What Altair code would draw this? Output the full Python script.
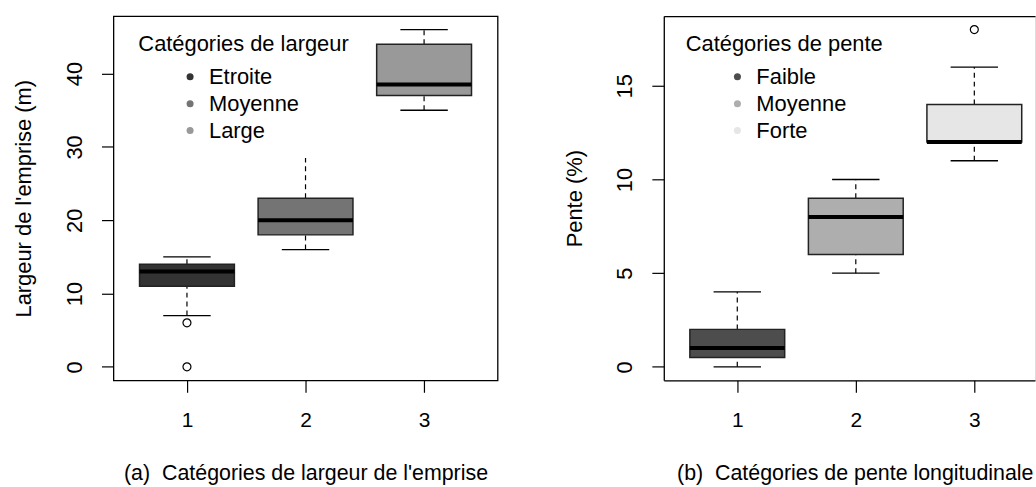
import altair as alt
import pandas as pd

FONT = "Liberation Sans"

# ---- shared ----
x_ticks = [1, 2, 3]

# ---- panel (a): largeur de l'emprise ----
a_cats = ["Etroite", "Moyenne", "Large"]
a_wlo = [7, 16, 35]
a_q1 = [11, 18, 37]
a_med = [13, 20, 38.5]
a_q3 = [14, 23, 44]
a_whi = [15, 28.5, 46]
a_cap_hi = [True, False, True]
a_out_pos = [1, 1]
a_out_val = [6, 0]
a_colors = ["#333333", "#747474", "#999999"]
a_ydomain = [-1.84, 47.84]
a_xdomain = [0.38, 3.62]
a_yticks = [0, 10, 20, 30, 40]

# ---- panel (b): pente longitudinale ----
b_cats = ["Faible", "Moyenne", "Forte"]
b_wlo = [0, 5, 11]
b_q1 = [0.5, 6, 12]
b_med = [1, 8, 12]
b_q3 = [2, 9, 14]
b_whi = [4, 10, 16]
b_cap_hi = [True, True, True]
b_out_pos = [3]
b_out_val = [18]
b_colors = ["#4D4D4D", "#AEAEAE", "#E6E6E6"]
b_ydomain = [-0.72, 18.72]
b_xdomain = [0.38, 3.512]
b_yticks = [0, 5, 10, 15]


def panel(cats, wlo, q1, med, q3, whi, cap_hi, out_pos, out_val, colors,
          ydom, xdom, yticks, ytitle, xtitle, ltitle, width, legend_x,
          catfield, framed):
    df = pd.DataFrame({catfield: cats, "pos": x_ticks, "wlo": wlo, "q1": q1,
                       "med": med, "q3": q3, "whi": whi, "cap_hi": cap_hi})
    odf = pd.DataFrame({"pos": out_pos, "val": out_val})
    base = alt.Chart(df).transform_calculate(
        bl="datum.pos - 0.4", br="datum.pos + 0.4",
        cl="datum.pos - 0.2", cr="datum.pos + 0.2")
    xs = alt.Scale(domain=xdom, nice=False, zero=False)
    ys = alt.Scale(domain=ydom, nice=False, zero=False)

    xaxis_kw = dict(values=x_ticks, labelAngle=0, tickSize=12, tickColor="black",
                    tickWidth=1.2, labelFontSize=21, labelPadding=17,
                    labelColor="black", labelFlush=False, grid=False,
                    title=xtitle, titleFontSize=21.5, titleFontWeight="normal",
                    titleColor="black", titleY=100, titleBaseline="alphabetic",
                    titleLimit=600,
                    domain=not framed, domainColor="black", domainWidth=1.3)
    if not framed:
        xaxis_kw.update(titleX=width - 2, titleAlign="right")
    xaxis = alt.Axis(**xaxis_kw)
    yaxis = alt.Axis(values=yticks, labelAngle=270, labelAlign="center",
                     labelBaseline="alphabetic", labelPadding=20, tickSize=12,
                     tickColor="black", tickWidth=1.2, labelFontSize=22,
                     labelColor="black", grid=False, title=ytitle,
                     titleFontSize=22, titleFontWeight="normal", titleColor="black",
                     titleX=-83, titleBaseline="alphabetic", titleAngle=270,
                     titleAlign="center", titleLimit=600,
                     domain=not framed, domainColor="black", domainWidth=1.3)
    # in the framed panel the x axis is shared, so every layer carries it;
    # in the open panel x axes are independent, so only two layers draw one
    xo = xaxis if framed else None

    whisk_lo = base.mark_rule(color="black", strokeWidth=1.2, strokeDash=[5, 4]).encode(
        x=alt.X("pos:Q", scale=xs, axis=xaxis),
        y=alt.Y("wlo:Q", scale=ys, axis=yaxis),
        y2="q1:Q")
    whisk_hi = base.mark_rule(color="black", strokeWidth=1.2, strokeDash=[5, 4]).encode(
        x=alt.X("pos:Q", scale=xs, axis=xo),
        y=alt.Y("q3:Q", scale=ys, axis=yaxis),
        y2="whi:Q")
    cap_lo = base.mark_rule(color="black", strokeWidth=1.3).encode(
        x=alt.X("cl:Q", scale=xs, axis=xo), x2="cr:Q",
        y=alt.Y("wlo:Q", scale=ys, axis=yaxis))
    cap_hi_l = base.transform_filter("datum.cap_hi").mark_rule(
        color="black", strokeWidth=1.3).encode(
        x=alt.X("cl:Q", scale=xs, axis=xo), x2="cr:Q",
        y=alt.Y("whi:Q", scale=ys, axis=yaxis))
    legend = alt.Legend(title=ltitle, orient="none", legendX=legend_x, legendY=18,
                        direction="vertical", symbolType="circle", symbolSize=50,
                        symbolStrokeWidth=0, labelFontSize=22, titleFontSize=22,
                        titleFontWeight="normal", titlePadding=10, rowPadding=5,
                        symbolOffset=41, labelOffset=8, padding=0,
                        titleLimit=600, labelLimit=400,
                        titleColor="black", labelColor="black")
    box = base.mark_bar(stroke="#222222", strokeWidth=1.5).encode(
        x=alt.X("bl:Q", scale=xs, axis=xo), x2="br:Q",
        y=alt.Y("q1:Q", scale=ys, axis=yaxis), y2="q3:Q",
        color=alt.Color(f"{catfield}:N",
                        scale=alt.Scale(domain=cats, range=colors),
                        legend=legend))
    top_axis = alt.Axis(orient="top", ticks=False, labels=False, title=None,
                        domain=True, domainColor="black", domainWidth=1.3, grid=False)
    median = base.mark_rule(color="black", strokeWidth=4).encode(
        x=alt.X("bl:Q", scale=xs, axis=xaxis if framed else top_axis), x2="br:Q",
        y=alt.Y("med:Q", scale=ys, axis=yaxis))
    outl = alt.Chart(odf).mark_point(shape="circle", filled=False, color="black",
                                     size=64, strokeWidth=1.2, opacity=1).encode(
        x=alt.X("pos:Q", scale=xs, axis=xo),
        y=alt.Y("val:Q", scale=ys, axis=yaxis))

    ch = alt.layer(whisk_lo, whisk_hi, cap_lo, cap_hi_l, box, median, outl).properties(
        width=width, height=366)
    if framed:
        ch = ch.properties(view=alt.ViewBackground(stroke="black", strokeWidth=1.3))
    else:
        ch = ch.resolve_axis(x="independent")
    return ch


left = panel(a_cats, a_wlo, a_q1, a_med, a_q3, a_whi, a_cap_hi, a_out_pos, a_out_val,
             a_colors, a_ydomain, a_xdomain, a_yticks, "Largeur de l'emprise (m)",
             "(a)\u00a0\u00a0Catégories de largeur de l'emprise", "Catégories de largeur",
             386, 25, "largeur", True)
right = panel(b_cats, b_wlo, b_q1, b_med, b_q3, b_whi, b_cap_hi, b_out_pos, b_out_val,
              b_colors, b_ydomain, b_xdomain, b_yticks, "Pente (%)",
              "(b)\u00a0\u00a0Catégories de pente longitudinale", "Catégories de pente",
              373, 22, "pente", False)

chart = alt.hconcat(left, right, spacing=64).resolve_scale(
    color="independent", x="independent", y="independent"
).resolve_legend(color="independent").properties(
    padding={"left": 12, "top": 14, "right": 0, "bottom": 0},
    background="white",
).configure_view(stroke=None).configure(font=FONT)

chart.save("out.html", embed_options={"renderer": "svg", "actions": False})
